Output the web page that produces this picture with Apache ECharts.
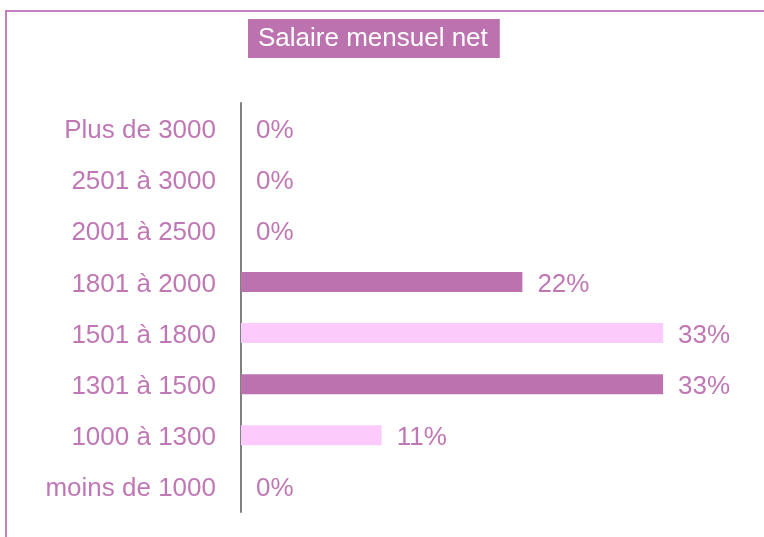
<!DOCTYPE html>
<html><head><meta charset="utf-8">
<script src="https://cdn.jsdelivr.net/npm/echarts@6/dist/echarts.min.js"></script>
<style>html,body{margin:0;padding:0;background:#fff;}#c{width:764px;height:537px;}</style>
</head><body><div id="c"></div>
<script>
const categories = ['moins de 1000','1000 à 1300','1301 à 1500','1501 à 1800','1801 à 2000','2001 à 2500','2501 à 3000','Plus de 3000'];
const values = [0, 11.1, 33.3, 33.3, 22.2, 0, 0, 0];
const barColors = ['#bd72b0', '#fccbfc'];
const titleText = 'Salaire mensuel net';
const textColor = '#c078b5';
const font = '"Liberation Sans", Arial, sans-serif';

const chart = echarts.init(document.getElementById('c'), null, {renderer:'canvas'});
chart.setOption({
  backgroundColor: '#fff',
  animation: false,
  title: {
    text: titleText, left: 248, top: 19,
    backgroundColor: '#bd72b0', padding: [7, 12, 6, 10],
    textStyle: {color: '#fff', fontSize: 26, fontWeight: 'normal', fontFamily: font}
  },
  graphic: [{
    type: 'rect', shape: {x: 6, y: 11, width: 900, height: 700},
    style: {fill: 'none', stroke: '#c47fbe', lineWidth: 2}, silent: true
  }],
  grid: {left: 241, right: 16, top: 103, bottom: 25, containLabel: false},
  xAxis: {type: 'value', min: 0, max: 40, show: false},
  yAxis: {
    type: 'category', data: categories,
    axisLine: {show: true, lineStyle: {color: '#808080', width: 2}},
    axisTick: {show: false},
    axisLabel: {
      color: textColor, fontSize: 26, fontFamily: font, margin: 25,
      formatter: v => '{a|' + v + '}',
      rich: {a: {color: textColor, fontSize: 26, fontFamily: font, padding: [5, 0, 0, 0]}}
    }
  },
  series: [{
    type: 'bar', data: values, barWidth: 20,
    itemStyle: {color: p => barColors[p.dataIndex % 2]},
    label: {
      show: true, position: 'right', distance: 15, offset: [0, 2.5],
      color: textColor, fontSize: 26, fontFamily: font,
      formatter: p => Math.round(p.value) + '%'
    }
  }]
});
</script></body></html>
